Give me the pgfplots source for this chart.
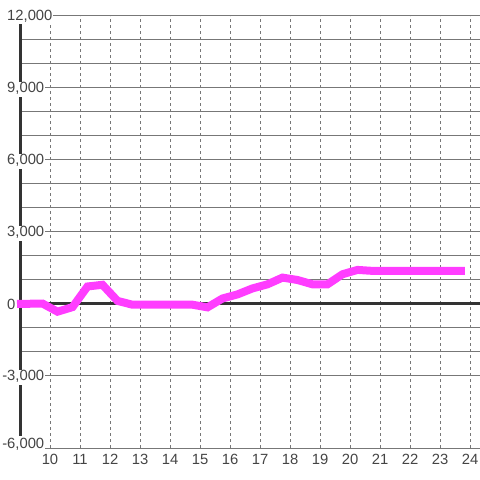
\documentclass[border=0pt]{standalone}
\usepackage{pgfplots}
\pgfplotsset{compat=1.18}
\usepackage{fontspec}
\setmainfont{Liberation Sans}
\definecolor{magline}{HTML}{FF3DFF}
\definecolor{axisdark}{HTML}{333333}
\definecolor{gridgray}{HTML}{777777}
\definecolor{labelgray}{HTML}{444444}
\begin{document}
\begin{tikzpicture}
\begin{axis}[
at={(20bp,32bp)},
anchor=south west,
scale only axis,
width=460bp,
height=432bp,
xmin=9, xmax=24.333,
ymin=-6000, ymax=12000,
clip=false,
axis lines*=left,
axis line style={draw=none},
unbounded coords=jump,
xtick={10,...,24},
ytick={-3000,0,...,12000},
minor y tick num=2,
extra y ticks={-6000},
extra y tick style={yticklabel style={yshift=4bp}},
scaled ticks=false,
major tick length=0pt,
minor tick length=0pt,
xmajorgrids, ymajorgrids, yminorgrids,
y grid style={gridgray, line width=1bp},
x grid style={gridgray, line width=1bp, dash pattern=on 3bp off 3bp},
tick label style={font=\fontsize{14.8bp}{17bp}\selectfont, text=labelgray},
/pgf/number format/1000 sep={,},
/pgf/number format/assume math mode=true,
yticklabel={\ifdim\tick pt<0pt\llap{-}\fi\pgfmathparse{abs(\tick)}\pgfmathprintnumber{\pgfmathresult}},
yticklabel style={anchor=west, xshift=-14bp, fill=white, inner sep=1bp},
xticklabel style={yshift=-3bp},
]
% left axis line, broken where the tick labels sit
\addplot[axisdark, line width=3bp, forget plot] coordinates {
(9,-5500) (9,-3375) (9,nan) (9,-2750) (9,2625) (9,nan) (9,3250) (9,5625)
(9,nan) (9,6250) (9,8625) (9,nan) (9,9250) (9,11667)
};
% zero line
\addplot[axisdark, line width=3bp, forget plot] coordinates {(9,0) (24.333,0)};
% series
\addplot[magline, line width=8bp] coordinates {
(8.9,0) (9.75,20) (10.25,-320) (10.75,-130) (11.25,730) (11.75,800)
(12.25,130) (12.75,-30) (13.25,-30) (13.75,-30) (14.25,-30) (14.75,-30)
(15.25,-140) (15.75,230) (16.25,400) (16.75,650) (17.25,820) (17.75,1100)
(18.25,1000) (18.75,820) (19.25,820) (19.75,1240) (20.25,1420) (20.75,1380)
(21.25,1380) (21.75,1380) (22.25,1380) (22.75,1380) (23.25,1380) (23.83,1380)
};
\end{axis}
\pgfresetboundingbox
\path (0,0) rectangle (480bp,480bp);
\end{tikzpicture}
\end{document}
